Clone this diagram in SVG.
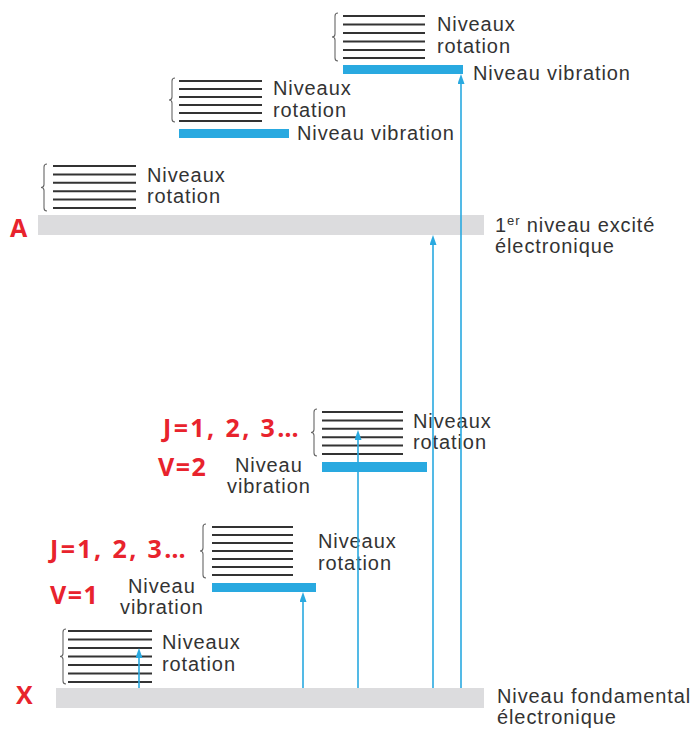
<svg xmlns="http://www.w3.org/2000/svg" width="694" height="729" viewBox="0 0 694 729">
  <defs>
    <style>
      .lbl { font-family: "Liberation Sans", Arial, sans-serif; font-size: 20px; fill: #333; letter-spacing: 0.9px; }
      .red { font-family: "Open Sans", "DejaVu Sans", sans-serif; font-weight: bold; font-size: 25px; fill: #e8232d; }
      .rot { stroke: #333; stroke-width: 2; }
      .brace { fill: none; stroke: #666; stroke-width: 1.1; }
      .vib { fill: #29a9e0; }
      .elec { fill: #dcdcde; }
      .tr { stroke: #29a9e0; stroke-width: 1.6; fill: none; marker-end: url(#arr); }
    </style>
    <marker id="arr" viewBox="0 0 10 7" refX="4" refY="3.5" markerWidth="10" markerHeight="7" orient="auto" markerUnits="userSpaceOnUse">
      <path d="M0,0 L10,3.5 L0,7 z" fill="#29a9e0"/>
    </marker>
  </defs>

  <!-- electronic level A, vibration level 2 -->
  <g id="A-v2">
    <path class="brace" d="M338,13 Q335,13 335,16 L335,34 Q335,37 332,37 Q335,37 335,40 L335,58 Q335,61 338,61"/>
    <g class="rot">
      <line x1="343" y1="16" x2="425" y2="16"/>
      <line x1="343" y1="24.5" x2="425" y2="24.5"/>
      <line x1="343" y1="33" x2="425" y2="33"/>
      <line x1="343" y1="41.5" x2="425" y2="41.5"/>
      <line x1="343" y1="50" x2="425" y2="50"/>
      <line x1="343" y1="58" x2="425" y2="58"/>
    </g>
    <text class="lbl" x="437" y="31">Niveaux</text>
    <text class="lbl" x="437" y="53">rotation</text>
    <rect class="vib" x="343" y="65" width="120" height="9"/>
    <text class="lbl" x="473" y="80">Niveau vibration</text>
  </g>

  <!-- electronic level A, vibration level 1 -->
  <g id="A-v1">
    <path class="brace" d="M175,78 Q172,78 172,81 L172,97 Q172,100 169,100 Q172,100 172,103 L172,119 Q172,122 175,122"/>
    <g class="rot">
      <line x1="179" y1="81" x2="262" y2="81"/>
      <line x1="179" y1="89" x2="262" y2="89"/>
      <line x1="179" y1="97" x2="262" y2="97"/>
      <line x1="179" y1="105" x2="262" y2="105"/>
      <line x1="179" y1="113" x2="262" y2="113"/>
      <line x1="179" y1="121" x2="262" y2="121"/>
    </g>
    <text class="lbl" x="273" y="95">Niveaux</text>
    <text class="lbl" x="273" y="117">rotation</text>
    <rect class="vib" x="179" y="129" width="110" height="9"/>
    <text class="lbl" x="297" y="140">Niveau vibration</text>
  </g>

  <!-- electronic level A, ground vibration -->
  <g id="A-v0">
    <path class="brace" d="M47,164 Q44,164 44,167 L44,184.5 Q44,187.5 41,187.5 Q44,187.5 44,190.5 L44,208 Q44,211 47,211"/>
    <g class="rot">
      <line x1="53" y1="166" x2="136" y2="166"/>
      <line x1="53" y1="174.4" x2="136" y2="174.4"/>
      <line x1="53" y1="182.8" x2="136" y2="182.8"/>
      <line x1="53" y1="191.2" x2="136" y2="191.2"/>
      <line x1="53" y1="199.6" x2="136" y2="199.6"/>
      <line x1="53" y1="208" x2="136" y2="208"/>
    </g>
    <text class="lbl" x="147" y="182">Niveaux</text>
    <text class="lbl" x="147" y="203">rotation</text>
  </g>

  <g id="level-A">
    <rect class="elec" x="38" y="215" width="446" height="20"/>
    <text class="red" x="10" y="237">A</text>
    <text class="lbl" x="495" y="232">1<tspan font-size="13" dy="-7">er</tspan><tspan dy="7"> niveau excité</tspan></text>
    <text class="lbl" x="495" y="253">électronique</text>
  </g>

  <!-- electronic level X, vibration level 2 -->
  <g id="X-v2">
    <path class="brace" d="M317,409 Q314,409 314,412 L314,429.5 Q314,432.5 311,432.5 Q314,432.5 314,435.5 L314,453 Q314,456 317,456"/>
    <g class="rot">
      <line x1="322" y1="412" x2="403" y2="412"/>
      <line x1="322" y1="420.4" x2="403" y2="420.4"/>
      <line x1="322" y1="428.8" x2="403" y2="428.8"/>
      <line x1="322" y1="437.2" x2="403" y2="437.2"/>
      <line x1="322" y1="445.6" x2="403" y2="445.6"/>
      <line x1="322" y1="454" x2="403" y2="454"/>
    </g>
    <text class="lbl" x="413" y="428">Niveaux</text>
    <text class="lbl" x="413" y="449">rotation</text>
    <rect class="vib" x="322" y="462" width="105" height="10"/>
    <text class="lbl" x="235" y="472">Niveau</text>
    <text class="lbl" x="227" y="493">vibration</text>
    <text class="red" x="163" y="437" letter-spacing="2.4">J=1, 2, 3…</text>
    <text class="red" x="158" y="476" letter-spacing="1.5">V=2</text>
  </g>

  <!-- electronic level X, vibration level 1 -->
  <g id="X-v1">
    <path class="brace" d="M206,524 Q203,524 203,527 L203,548 Q203,551 200,551 Q203,551 203,554 L203,575 Q203,578 206,578"/>
    <g class="rot">
      <line x1="212" y1="527" x2="293" y2="527"/>
      <line x1="212" y1="535" x2="293" y2="535"/>
      <line x1="212" y1="543" x2="293" y2="543"/>
      <line x1="212" y1="551" x2="293" y2="551"/>
      <line x1="212" y1="559" x2="293" y2="559"/>
      <line x1="212" y1="567" x2="293" y2="567"/>
      <line x1="212" y1="575" x2="293" y2="575"/>
    </g>
    <text class="lbl" x="318" y="548">Niveaux</text>
    <text class="lbl" x="318" y="570">rotation</text>
    <rect class="vib" x="212" y="583" width="104" height="9"/>
    <text class="lbl" x="128" y="593">Niveau</text>
    <text class="lbl" x="120" y="614">vibration</text>
    <text class="red" x="50" y="558" letter-spacing="2.4">J=1, 2, 3…</text>
    <text class="red" x="50" y="604" letter-spacing="1.5">V=1</text>
  </g>

  <!-- electronic level X, ground vibration -->
  <g id="X-v0">
    <path class="brace" d="M66,629 Q63,629 63,632 L63,653.5 Q63,656.5 60,656.5 Q63,656.5 63,659.5 L63,681 Q63,684 66,684"/>
    <g class="rot">
      <line x1="68" y1="631" x2="152" y2="631"/>
      <line x1="68" y1="639.5" x2="152" y2="639.5"/>
      <line x1="68" y1="648" x2="152" y2="648"/>
      <line x1="68" y1="656.5" x2="152" y2="656.5"/>
      <line x1="68" y1="665" x2="152" y2="665"/>
      <line x1="68" y1="673.5" x2="152" y2="673.5"/>
      <line x1="68" y1="682" x2="152" y2="682"/>
    </g>
    <text class="lbl" x="162" y="649">Niveaux</text>
    <text class="lbl" x="162" y="671">rotation</text>
  </g>

  <g id="level-X">
    <rect class="elec" x="56" y="688" width="428" height="20"/>
    <text class="red" x="16" y="704">X</text>
    <text class="lbl" x="497" y="703">Niveau fondamental</text>
    <text class="lbl" x="497" y="724">électronique</text>
  </g>

  <!-- transitions -->
  <g id="connectors">
    <line class="tr" x1="139" y1="688" x2="139" y2="654"/>
    <line class="tr" x1="303" y1="688" x2="303" y2="598"/>
    <line class="tr" x1="358" y1="688" x2="358" y2="436"/>
    <line class="tr" x1="433" y1="688" x2="433" y2="241"/>
    <line class="tr" x1="461" y1="688" x2="461" y2="80"/>
  </g>
</svg>
